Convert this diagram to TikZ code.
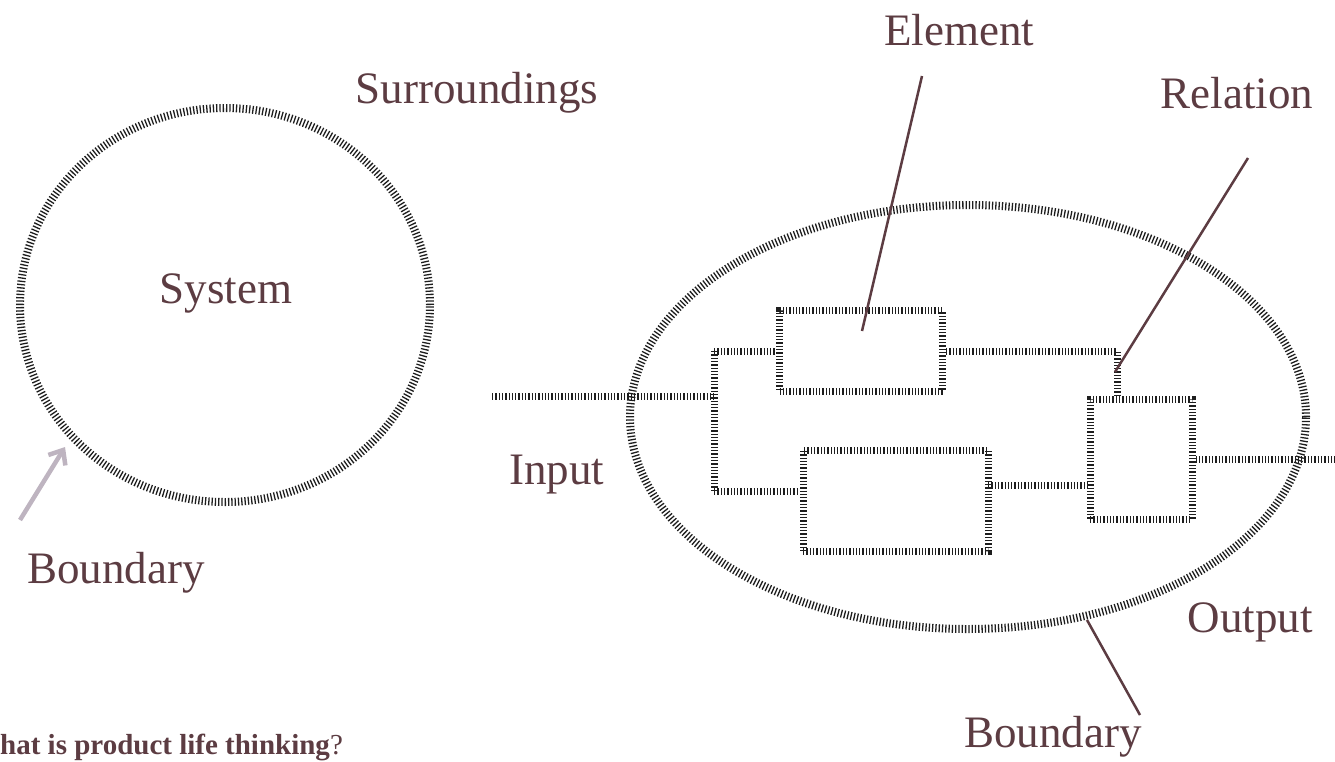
\documentclass[tikz,border=0pt]{standalone}
\usepackage{fontspec}
\setmainfont{Liberation Serif}
\usetikzlibrary{shapes.geometric,arrows.meta}
\definecolor{txt}{RGB}{92,60,66}
\definecolor{tick}{RGB}{30,30,30}
\definecolor{lav}{RGB}{190,180,192}
\tikzset{
  hatch/.style={draw=tick,line width=7pt,dash pattern=on 1.3pt off 2pt},
  hatchc/.style={draw=tick,line width=8pt,dash pattern=on 1.3pt off 2pt},
  lbl/.style={text=txt,font=\fontsize{45}{50}\selectfont,inner sep=0pt},
  elem/.style={rectangle,hatch,inner sep=0pt},
  ptr/.style={draw=txt,line width=2.5pt},
}
\begin{document}
\begin{tikzpicture}[x=1pt,y=-1pt]
\useasboundingbox (0,0) rectangle (1335,761);
% left system
\node[ellipse,hatchc,minimum width=410pt,minimum height=394pt,inner sep=0pt] (sys) at (225,305) {};
\node[lbl] (systxt) at (226,293) {System};
\node[lbl] (surr) at (477,93) {Surroundings};
\node[lbl] (bnd1) at (116,573) {Boundary};
\coordinate (arrs) at (20,520);
\coordinate (arre) at (65,447);
\draw[draw=lav,line width=4.5pt,-{Straight Barb[length=12pt,width=20pt,line width=4.5pt]}] (arrs) -- (arre);
% right system
\node[ellipse,hatchc,minimum width=676pt,minimum height=424pt,inner sep=0pt] (big) at (968,417) {};
\node[elem,minimum width=163pt,minimum height=81pt] (b1) at (861,351) {};
\node[elem,minimum width=185pt,minimum height=101pt] (b2) at (895.5,500.5) {};
\node[elem,minimum width=102pt,minimum height=120pt] (b3) at (1141,459) {};
\coordinate (in) at (492,396);
\coordinate (jin) at (714,396);
\coordinate (jt) at (714,351);
\coordinate (jb) at (714,491);
\coordinate (rc) at (1117,351);
\coordinate (r2) at (988,485);
\coordinate (r3) at (1090,485);
\coordinate (out) at (1335,459);
\draw[hatch] (in) -- (jin);
\draw[hatch] (jt) -- (jb);
\draw[hatch] (jt) -- (b1.west);
\draw[hatch] (jb) -- (jb -| b2.west);
\draw[hatch] (b1.east) -- (rc) -- (rc |- b3.north);
\draw[hatch] (r2) -- (r3);
\draw[hatch] (b3.east) -- (out);
% labels
\node[lbl] (elt) at (959,30) {Element};
\node[lbl] (rel) at (1237,93) {Relation};
\node[lbl] (inp) at (557,475) {Input};
\node[lbl] (outp) at (1250,622) {Output};
\node[lbl] (bnd2) at (1053,737) {Boundary};
\coordinate (e1) at (922,76);
\coordinate (e2) at (862,331);
\coordinate (rl1) at (1248,158);
\coordinate (rl2) at (1115,372);
\coordinate (bd1) at (1087,620);
\coordinate (bd2) at (1140,715);
\draw[ptr] (e1) -- (e2);
\draw[ptr] (rl1) -- (rl2);
\draw[ptr] (bd1) -- (bd2);
\node[anchor=base west,inner sep=0pt,text=txt,font=\fontsize{29}{32}\selectfont] (q) at (0,754) {\textbf{hat is product life thinking}?};
\end{tikzpicture}
\end{document}
